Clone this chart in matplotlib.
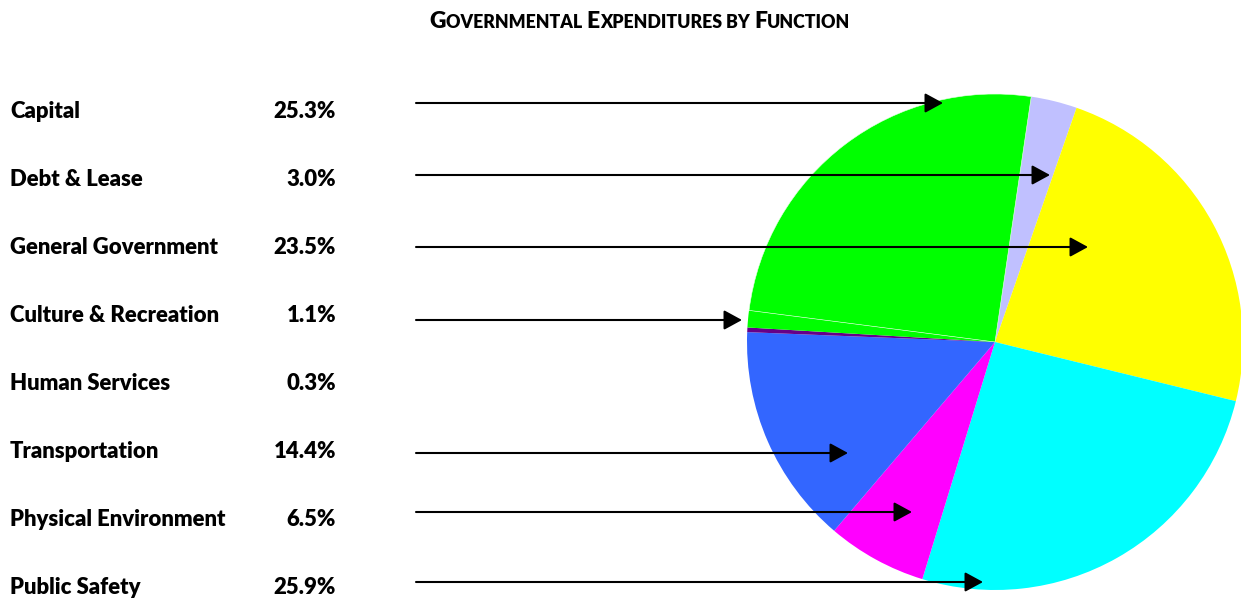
import matplotlib
matplotlib.use("Agg")
import matplotlib.pyplot as plt
from matplotlib.patches import FancyArrowPatch

# Expenditure shares by function (percent), in legend order
categories = ["Capital", "Debt & Lease", "General Government", "Culture & Recreation",
              "Human Services", "Transportation", "Physical Environment", "Public Safety"]
shares = [25.3, 3.0, 23.5, 1.1, 0.3, 14.4, 6.5, 25.9]
colors = {"Capital": "#00FF00", "Debt & Lease": "#C0C0FF", "General Government": "#FFFF00",
          "Culture & Recreation": "#00FF00", "Human Services": "#660088",
          "Transportation": "#3366FF", "Physical Environment": "#FF00FF",
          "Public Safety": "#00FFFF"}
# Clockwise order of the wedges around the pie
pie_order = ["Debt & Lease", "General Government", "Public Safety", "Physical Environment",
             "Transportation", "Human Services", "Culture & Recreation", "Capital"]
# Where each pointer arrow ends (x, in pixels); None means no arrow
arrow_tip_x = {"Capital": 943, "Debt & Lease": 1050, "General Government": 1088,
               "Culture & Recreation": 742, "Human Services": None,
               "Transportation": 848, "Physical Environment": 912, "Public Safety": 983}
arrow_y = {"Capital": 103, "Debt & Lease": 175, "General Government": 247,
           "Culture & Recreation": 320, "Transportation": 453,
           "Physical Environment": 512, "Public Safety": 582}

W, H = 1241, 599
FONT = "Lato"
fig = plt.figure(figsize=(W / 100, H / 100), dpi=100)
ax = fig.add_axes([0, 0, 1, 1])

def Y(py):
    return H - py

share_of = dict(zip(categories, shares))
wedges, _ = ax.pie([share_of[c] for c in pie_order], colors=[colors[c] for c in pie_order],
                   startangle=81.6, counterclock=False, center=(995, Y(342)), radius=248,
                   frame=True, wedgeprops=dict(edgecolor="none", linewidth=0))
# faint seam between the two green wedges
wedges[-1].set_edgecolor("#E8FFE8")
wedges[-1].set_linewidth(0.4)
ax.set_xlim(0, W)
ax.set_ylim(0, H)
ax.axis("off")

# Labels with percentages
row0, step = 111, 68.1
for i, (c, v) in enumerate(zip(categories, shares)):
    yy = Y(row0 + i * step)
    ax.text(10, yy, c, fontsize=15.9, fontweight="heavy", family=FONT, va="center", ha="left")
    ax.text(336, yy, f"{v:.1f}%", fontsize=15.9, fontweight="heavy", family=FONT,
            va="center", ha="right")
    tip = arrow_tip_x[c]
    if tip is not None:
        ya = Y(arrow_y[c])
        arr = FancyArrowPatch((416, ya), (tip, ya),
                              arrowstyle="-|>,head_length=1.1,head_width=0.6",
                              mutation_scale=10, color="black", linewidth=1.5,
                              shrinkA=0, shrinkB=0)
        ax.add_patch(arr)

# Small-caps title built from pieces
words = ["Governmental", "Expenditures", "by", "Function"]
big, small = 16.5, 12.8
pieces = []
for wi, w in enumerate(words):
    first, rest = w[0].upper(), w[1:].upper()
    if wi == 2:
        first, rest = "", "BY"
    if first:
        pieces.append((first, big))
    pieces.append((rest + (" " if wi < len(words) - 1 else ""), small))

renderer = fig.canvas.get_renderer()
texts = []
total = 0
for s, sz in pieces:
    t = ax.text(0, Y(28), s, fontsize=sz, fontweight="heavy", family=FONT,
                va="baseline", ha="left")
    bb = t.get_window_extent(renderer)
    texts.append((t, bb.width))
    total += bb.width
x = 640 - total / 2
for t, wdt in texts:
    t.set_x(x)
    x += wdt

fig.savefig("out.png", dpi=100)
